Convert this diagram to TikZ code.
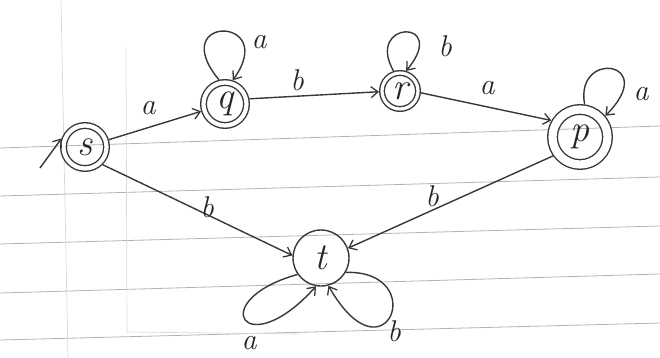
\documentclass[tikz,border=0pt]{standalone}
\usepackage{fontspec}
\setmainfont{Latin Modern Roman}
\usetikzlibrary{arrows.meta}
\begin{document}
\begin{tikzpicture}[x=1pt,y=-1pt,
  ink/.style={draw=black!78, line width=1.4pt},
  arr/.style={ink, -{Straight Barb[length=7pt,width=11pt,line width=1.3pt]}},
  st/.style={circle, ink, minimum size=#1, inner sep=0pt, outer sep=0.7pt,
             font=\fontsize{38}{40}\selectfont\itshape, text=black!85},
  acc/.style={double=white, double distance=#1, outer sep=#1/2+1.4pt},
  lbl/.style={font=\fontsize{30}{32}\selectfont\itshape, text=black!85, inner sep=0pt},
  rule/.style={draw=black!30, line width=0.8pt},
  faint/.style={draw=black!15, line width=0.7pt}
]
\useasboundingbox (0,0) rectangle (660,358);
% paper
\draw[rule] (0,148) -- (660,126);
\draw[rule] (0,196) -- (660,177);
\draw[rule] (0,244) -- (660,226);
\draw[rule] (0,293) -- (660,274);
\draw[rule] (0,340) -- (660,323);
\draw[faint] (61,0) -- (68,358);
\draw[faint] (126,48) -- (127,332) -- (300,334);

% states
\node[st=43, acc=4.2pt] (s) at (85,147) {s};
\node[st=43, acc=4.2pt] (q) at (225,104) {q};
\node[st=36, acc=3.2pt] (r) at (400,91) {r};
\node[st=55, acc=8.2pt] (p) at (580,137) {p};
\node[st=56] (t) at (321,258) {t};

% initial arrow
\coordinate (i0) at (40,168);
\draw[arr] (i0) -- (s.160);

% transitions
\draw[arr] (s) -- (q);
\draw[arr] (q.12) -- (r.182);
\draw[arr] (r.-5) -- (p.150);
\draw[arr] (s.-45) -- (t.175);
\draw[arr] (p.215) -- (t.20);

% loops
\draw[arr] (q.104) .. controls +(-54,-65) and +(47,-65) .. (q.72);
\draw[arr] (r.108) .. controls +(-29,-51) and +(44,-53) .. (r.73);
\draw[arr] (p.82) .. controls +(-10,-55) and +(55,-55) .. (p.40);
\draw[arr] (t.215) .. controls +(-93,26) and +(-71,79) .. (t.260);
\draw[arr] (t.330) .. controls +(85,-2) and +(57,100) .. (t.285);

% labels
\node[lbl] (l1) at (148,108) {a};
\node[lbl] (l2) at (297,80) {b};
\node[lbl] (l3) at (487,88) {a};
\node[lbl] (l4) at (207,207) {b};
\node[lbl] (l5) at (432,196) {b};
\node[lbl] (l6) at (259,42) {a};
\node[lbl] (l7) at (445,46) {b};
\node[lbl] (l8) at (641,94) {a};
\node[lbl] (l9) at (249,343) {a};
\node[lbl] (l10) at (394,331) {b};
\end{tikzpicture}
\end{document}
